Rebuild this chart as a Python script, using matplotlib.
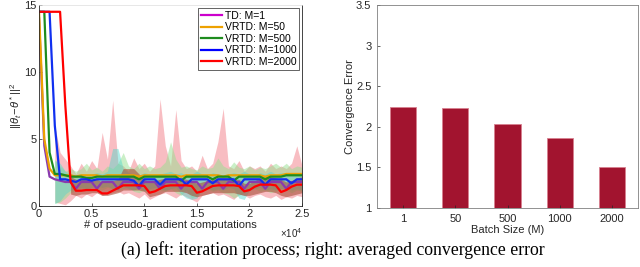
import numpy as np
import matplotlib
matplotlib.use("Agg")
import matplotlib.pyplot as plt
from matplotlib.lines import Line2D

nan = float('nan')

# ---- left panel data (sampled every 0.05e4 computations) ----
X_SCALE = 1e4
x_samples = np.round(np.arange(0, 2.5001, 0.05), 2)

td_m1 = [14.0, 4.5, 2.2, 2.0, 1.9, 1.8, 1.8, 1.3, 1.8, 1.8, 1.8, 1.3, 1.8, 1.8, 1.8, 1.3, 1.8, 1.8, 1.8, 1.3,
         1.8, 1.8, 1.8, 1.3, 1.8, 1.8, 1.8, 1.3, 1.8, 1.8, 1.8, 1.3, 1.8, 1.8, 1.8, 1.3, 1.8, 1.8, 1.8, 1.3,
         1.8, 1.8, 1.8, 1.3, 1.8, 1.8, 1.8, 1.3, 1.8, 1.8, 1.8]
vrtd_50 = [14.5, 5.0, 2.8, 2.3, 2.3, 2.3, 2.3, 2.2, 2.3, 2.3, 2.3, 2.3, 2.2, 2.3, 2.3, 2.3, 2.3, 2.3, 2.3, 2.2,
           2.3, 2.3, 2.3, 2.3, 2.3, 2.3, 2.3, 2.2, 2.3, 2.3, 2.3, 2.3, 2.3, 2.3, 2.3, 2.2, 2.3, 2.3, 2.3, 2.3,
           2.3, 2.3, 2.3, 2.2, 2.3, 2.3, 2.3, 2.4, 2.4, 2.4, 2.4]
vrtd_500 = [14.5, 14.5, 4.0, 2.4, 2.4, 2.3, 2.2, 2.2, 2.2, 2.1, 2.1, 2.2, 2.2, 2.2, 2.2, 2.2, 2.2, 2.2, 2.2, 2.0,
            2.2, 2.2, 2.2, 2.2, 2.2, 2.2, 2.2, 1.9, 2.2, 2.2, 2.2, 2.2, 2.2, 2.0, 2.2, 2.2, 2.2, 1.9, 2.2, 2.2,
            2.2, 2.2, 2.2, 2.0, 2.2, 2.2, 2.2, 2.3, 2.3, 2.3, 2.3]
vrtd_1000 = [14.5, 14.5, 14.5, 6.0, 2.0, 2.0, 1.9, 1.8, 2.0, 2.0, 1.9, 2.0, 2.0, 2.0, 2.0, 2.0, 2.0, 2.0, 1.9, 1.5,
             2.0, 2.0, 2.0, 1.6, 2.0, 2.0, 2.0, 2.0, 1.6, 2.0, 2.0, 2.0, 2.0, 1.7, 2.0, 2.0, 2.0, 2.0, 1.5, 2.0,
             2.0, 2.0, 2.0, 1.6, 2.0, 2.0, 2.0, 2.0, 1.7, 2.0, 2.0]
vrtd_2000 = [14.5, 14.5, 14.5, 14.5, 14.5, 7.5, 1.8, 1.15, 1.15, 1.2, 1.2, 1.2, 0.95, 0.95, 1.15, 1.35, 1.55, 1.55, 1.55, 1.55,
             1.5, 1.0, 1.1, 1.3, 1.5, 1.55, 1.55, 1.55, 1.55, 1.5, 1.0, 1.1, 1.3, 1.5, 1.55, 1.55, 1.55, 1.55, 1.5, 1.1,
             1.2, 1.45, 1.6, 1.6, 1.6, 1.55, 1.05, 1.2, 1.45, 1.6, 1.6]

pink_up = [nan, nan, nan, 6.0, 4.0, 3.5, 3.0, 2.4, 3.2, 2.6, 3.4, 2.8, 5.5, 3.5, 7.9, 3.2, 3.0, 2.6, 3.6, 2.8,
           3.2, 2.6, 3.0, 8.0, 4.5, 3.0, 7.2, 3.4, 2.8, 3.0, 2.6, 3.8, 2.8, 3.2, 4.8, 7.3, 3.0, 2.8, 3.4, 2.6,
           3.0, 2.8, 3.0, 2.6, 3.2, 2.8, 3.0, 2.8, 3.2, 4.5, 3.0]
pink_lo = [nan, nan, nan, 0.3, 0.2, 0.1, 0.4, 0.8, 0.6, 0.9, 0.7, 1.0, 0.8, 0.9, 1.0, 1.1, 0.9, 1.0, 0.8, 0.6,
           0.9, 0.5, 0.7, 0.9, 1.0, 0.8, 0.6, 0.9, 0.7, 0.5, 0.3, 0.8, 0.9, 1.0, 0.8, 0.9, 0.7, 0.5, 0.9, 0.8,
           0.6, 0.8, 0.9, 0.7, 0.6, 0.8, 0.5, 0.7, 0.6, 0.8, 0.7]
green_up = [nan, nan, nan, 3.5, 3.0, 2.6, 2.8, 2.6, 2.8, 3.2, 2.7, 2.9, 2.6, 3.0, 2.8, 3.2, 4.0, 3.0, 2.8, 3.2,
            2.8, 3.0, 2.8, 2.9, 3.3, 4.8, 3.5, 2.9, 3.0, 2.8, 2.7, 3.0, 2.8, 2.9, 3.6, 3.0, 2.8, 3.3, 2.9, 2.8,
            3.0, 2.7, 2.9, 2.8, 3.0, 3.2, 2.9, 3.2, 2.8, 3.0, 2.9]
green_lo = [nan, nan, nan, 0.2, 0.3, 0.6, 1.0, 1.2, 1.3, 1.2, 1.4, 1.3, 1.2, 1.4, 1.3, 1.2, 1.3, 1.4, 1.1, 1.0,
            1.2, 1.0, 1.3, 1.2, 1.1, 1.3, 1.0, 0.8, 1.2, 0.6, 0.8, 1.2, 1.3, 1.1, 1.2, 1.0, 0.9, 0.6, 0.8, 1.0,
            1.2, 1.3, 1.1, 1.2, 1.0, 1.1, 1.3, 1.2, 1.0, 1.2, 1.1]
cyan_up = [nan, nan, nan, 3.4, 3.2, 2.6, 2.4, 2.3, 2.4, 2.3, 2.4, 2.5, 2.4, 2.6, 4.3, 4.3, 2.8, 2.5, 2.4, 2.3,
           2.5, 2.4, 2.3, 2.4, 2.5, 2.6, 2.4, 2.5, 2.3, 2.4, 2.6, 2.4, 2.3, 2.5, 2.4, 2.3, 2.4, 2.5, 2.4, 2.6,
           2.4, 2.3, 2.5, 2.4, 2.6, 2.4, 2.5, 2.4, 2.3, 2.5, 2.4]
cyan_lo = [nan, nan, nan, 0.2, 0.4, 0.9, 1.2, 1.3, 1.4, 1.3, 1.4, 1.5, 1.4, 1.5, 1.3, 1.4, 1.5, 1.3, 1.2, 1.4,
           1.1, 1.3, 1.4, 1.3, 1.2, 1.3, 1.4, 0.9, 0.6, 0.5, 0.6, 1.3, 1.4, 1.2, 1.3, 1.2, 1.4, 1.3, 0.6, 0.5,
           1.2, 1.3, 1.4, 1.2, 1.3, 1.2, 1.3, 1.4, 1.2, 1.3, 1.2]
brown_up = [nan, nan, nan, nan, nan, nan, 2.2, 2.0, 2.0, 2.0, 2.0, 2.0, 1.8, 1.8, 1.9, 2.0, 2.8, 2.8, 2.8, 2.4,
            2.0, 1.8, 1.9, 2.0, 2.1, 2.1, 2.1, 2.1, 2.0, 1.9, 1.7, 1.8, 1.9, 2.0, 2.1, 2.1, 2.1, 2.0, 2.0, 1.7,
            1.7, 1.9, 2.1, 2.2, 2.2, 2.1, 2.0, 1.8, 1.9, 2.1, 2.2]
brown_lo = [nan, nan, nan, nan, nan, nan, 0.9, 0.8, 0.9, 0.9, 1.0, 1.0, 0.8, 0.8, 0.9, 1.0, 1.2, 1.2, 1.2, 1.2,
            1.1, 0.7, 0.8, 0.9, 1.1, 1.1, 1.1, 1.1, 1.0, 0.8, 0.7, 0.8, 0.9, 1.0, 1.0, 1.0, 1.0, 1.0, 0.9, 0.8,
            0.8, 0.9, 1.0, 1.1, 1.1, 1.0, 0.8, 0.7, 0.8, 0.9, 1.0]

series_labels = ["TD: M=1", "VRTD: M=50", "VRTD: M=500", "VRTD: M=1000", "VRTD: M=2000"]
series_values = [td_m1, vrtd_50, vrtd_500, vrtd_1000, vrtd_2000]
series_colors = ["#CC00CC", "#EDA100", "#1E8C1E", "#0000FF", "#FF0000"]

# ---- right panel data ----
batch_labels = ["1", "50", "500", "1000", "2000"]
conv_error = [2.25, 2.23, 2.04, 1.86, 1.50]

plt.rcParams['font.family'] = ['Liberation Sans', 'DejaVu Sans']
plt.rcParams['mathtext.fontset'] = 'custom'
plt.rcParams['mathtext.it'] = 'Liberation Sans:italic'
plt.rcParams['mathtext.rm'] = 'Liberation Sans'

fig = plt.figure(figsize=(6.4, 2.67), dpi=100)

# ---------- left ----------
ax = fig.add_axes([0.061, 0.228, 0.411, 0.753])
xs = x_samples * X_SCALE
ax.fill_between(xs, pink_lo, pink_up, color="#F59AA2", alpha=0.65, lw=0)
ax.fill_between(xs, green_lo, green_up, color="#96E090", alpha=0.5, lw=0)
ax.fill_between(xs, cyan_lo, cyan_up, color="#4FD8CC", alpha=0.45, lw=0)
ax.fill_between(xs, brown_lo, brown_up, color="#A8503A", alpha=0.6, lw=0)

line_colors = ["#8A3AAE", "#EDA100", "#1E8C1E", "#1030F0", "#FF0000"]
for vals, c in zip(series_values, line_colors):
    ax.plot(xs, vals, color=c, lw=1.6, solid_joinstyle='round')

ax.set_xlim(0, 2.5e4)
ax.set_ylim(0, 15)
ax.set_xticks([0, 0.5e4, 1e4, 1.5e4, 2e4, 2.5e4])
ax.set_xticklabels(["0", "0.5", "1", "1.5", "2", "2.5"])
ax.set_yticks([0, 5, 10, 15])
ax.tick_params(direction='in', length=2.5, width=0.5, labelsize=8, colors='#262626', pad=2)
for s in ['left', 'bottom', 'right']:
    ax.spines[s].set_color('#262626')
    ax.spines[s].set_linewidth(0.6)
ax.spines['top'].set_color('#dddddd')
ax.spines['top'].set_linewidth(0.5)
ax.set_xlabel("# of pseudo-gradient computations", fontsize=8, labelpad=1, color='#262626')
ax.set_ylabel(r"$||\theta_t\!-\!\theta^*||^2$", fontsize=8, labelpad=0, color='#262626')
ax.text(1.0, -0.1, r"$\times10^4$", transform=ax.transAxes, fontsize=7, ha='right', va='top', color='#262626')

handles = [Line2D([], [], color=c, lw=1.6) for c in series_colors]
leg = ax.legend(handles, series_labels, loc='upper right', fontsize=7.5, frameon=True, fancybox=False,
                borderaxespad=0.25, handlelength=2.0, handletextpad=0.3, labelspacing=0.15,
                borderpad=0.3, framealpha=1)
leg.get_frame().set_edgecolor('#262626')
leg.get_frame().set_linewidth(0.5)

# ---------- right ----------
ax2 = fig.add_axes([0.589, 0.221, 0.408, 0.760])
pos = np.arange(1, len(conv_error) + 1)
ax2.bar(pos, conv_error, width=0.5, color="#A2142F", edgecolor="#D88090", linewidth=0.6, bottom=0)
ax2.set_xlim(0.5, 5.5)
ax2.set_ylim(1, 3.5)
ax2.set_xticks(pos)
ax2.set_xticklabels(batch_labels)
ax2.set_yticks([1, 1.5, 2, 2.5, 3, 3.5])
ax2.set_yticklabels(["1", "1.5", "2", "2.5", "3", "3.5"])
ax2.tick_params(direction='in', length=2.5, width=0.5, labelsize=8, colors='#262626', pad=4)
for s in ax2.spines.values():
    s.set_color('#808080')
    s.set_linewidth(0.6)
ax2.set_xlabel("Batch Size (M)", fontsize=8, labelpad=1, color='#262626')
ax2.set_ylabel("Convergence Error", fontsize=8, labelpad=1, color='#262626')

fig.text(0.52, 0.065, "(a) left: iteration process; right: averaged convergence error",
         ha='center', va='center', fontsize=12.8, family=['Liberation Serif', 'DejaVu Serif'])

fig.savefig("out.png", dpi=100)
